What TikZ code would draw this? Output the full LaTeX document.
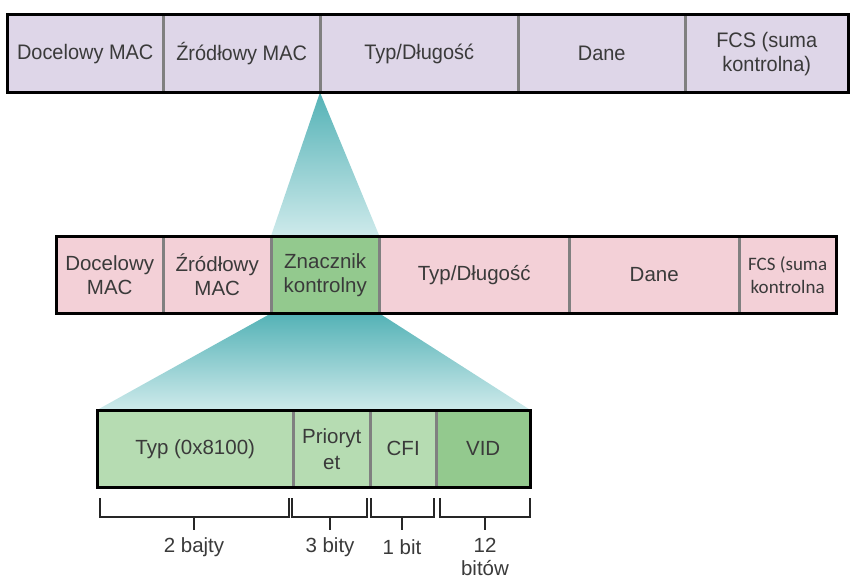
\documentclass[tikz,border=0pt]{standalone}
\usepackage{fontspec}
\setmainfont{Liberation Sans}
\newfontfamily\narrowsans[FakeStretch=0.95]{Liberation Sans}
\newfontfamily\calibrilike{Carlito}
\usetikzlibrary{positioning,calc}

\definecolor{lavender}{RGB}{222,214,232}
\definecolor{pinkish}{RGB}{243,208,215}
\definecolor{tagdark}{RGB}{147,201,142}
\definecolor{taglight}{RGB}{182,220,178}
\definecolor{tealtop}{RGB}{84,178,182}
\definecolor{tealbottom}{RGB}{206,234,235}
\definecolor{txt}{RGB}{58,58,58}
\definecolor{divgray}{RGB}{128,128,128}

\begin{document}
\begin{tikzpicture}[x=1pt, y=-1pt,
    cell/.style={rectangle, inner sep=0pt, minimum height=77pt, anchor=north west,
                 text=txt, align=center, font=\fontsize{20.5}{24}\selectfont},
    ethcell/.style={cell, fill=lavender, font=\narrowsans\fontsize{21}{24}\selectfont},
    vlancell/.style={cell, fill=pinkish},
    tagcell/.style={cell, fill=tagdark},
    tagpart/.style={cell, fill=taglight},
    frame/.style={draw=black, line width=3pt},
    divider/.style={draw=divgray, line width=3pt},
    bracket/.style={draw=black!85, line width=1.6pt},
    label/.style={text=txt, align=center, font=\fontsize{20.5}{23}\selectfont}
]
\useasboundingbox (0,0) rectangle (854,583);

% Ethernet frame
\node[ethcell, minimum width=156pt] (dmac) at (7,15) {Docelowy MAC};
\node[ethcell, minimum width=157pt] (smac) at (163,15) {Źródłowy MAC};
\node[ethcell, minimum width=198pt] (typ) at (320,15) {Typ/Długość};
\node[ethcell, minimum width=167pt] (dane) at (518,15) {Dane};
\node[ethcell, minimum width=163pt] (fcs) at (685,15) {FCS (suma\\kontrolna)};

% 802.1Q frame
\node[vlancell, minimum width=107pt] (qdmac) at (56,236) {Docelowy\\MAC};
\node[vlancell, minimum width=108pt] (qsmac) at (163,236) {Źródłowy\\MAC};
\node[tagcell, minimum width=108pt] (tag) at (271,236) {Znacznik\\kontrolny};
\node[vlancell, minimum width=190pt] (qtyp) at (379,236) {Typ/Długość};
\node[vlancell, minimum width=170pt] (qdane) at (569,236) {Dane};
\node[vlancell, minimum width=97pt, font=\calibrilike\fontsize{19}{23}\selectfont] (qfcs) at (739,236) {FCS (suma\\kontrolna};

% Tag fields
\node[tagpart, minimum width=196pt] (tpid) at (97,410) {Typ (0x8100)};
\node[tagpart, minimum width=77pt, font=\fontsize{20.5}{26}\selectfont] (prio) at (293,410) {Prioryt\\et};
\node[tagpart, minimum width=66pt] (cfi) at (370,410) {CFI};
\node[tagcell, minimum width=94pt] (vid) at (436,410) {VID};

% Zoom funnels
\shade[top color=tealtop, bottom color=tealbottom]
    (typ.south west) -- (tag.north east) -- (tag.north west) -- cycle;
\shade[top color=tealtop, bottom color=tealbottom]
    (tag.south west) -- (tag.south east) -- (vid.north east) -- (tpid.north west) -- cycle;

% Dividers
\foreach \c in {smac,typ,dane,fcs,qsmac,tag,qtyp,qdane,qfcs,prio,cfi,vid}
    \draw[divider] (\c.north west) -- (\c.south west);

% Outer frames
\draw[frame] (dmac.north west) rectangle (fcs.south east);
\draw[frame] (qdmac.north west) rectangle (qfcs.south east);
\draw[frame] (tpid.north west) rectangle (vid.south east);

% Size brackets
\draw[bracket] (100,498) -- (100,517) -- (289,517) -- (289,498);
\draw[bracket] (194,517) -- (194,530);
\draw[bracket] (292,498) -- (292,517) -- (367,517) -- (367,498);
\draw[bracket] (330,517) -- (330,530);
\draw[bracket] (371,498) -- (371,517) -- (434,517) -- (434,498);
\draw[bracket] (402,517) -- (402,530);
\draw[bracket] (440,498) -- (440,517) -- (530,517) -- (530,498);
\draw[bracket] (485,517) -- (485,530);

\node[label] (l2b) at (194,547) {2 bajty};
\node[label] (l3b) at (330,547) {3 bity};
\node[label] (l1b) at (402,547) {1 bit};
\node[label, anchor=north] (l12b) at (485,535) {12\\bitów};
\end{tikzpicture}
\end{document}
